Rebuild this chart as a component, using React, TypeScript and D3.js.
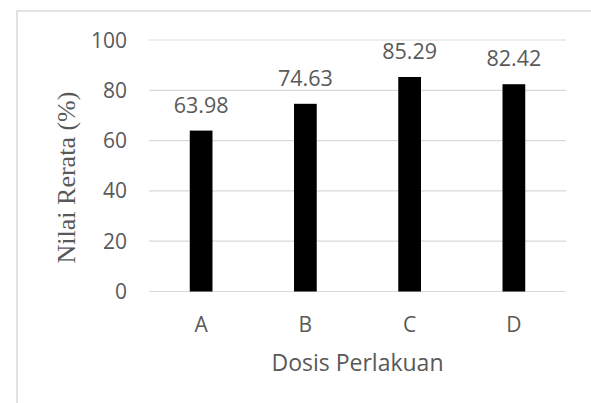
import React from "react";
import * as d3 from "d3";

const categories: string[] = ["A", "B", "C", "D"];
const values: number[] = [63.98, 74.63, 85.29, 82.42];
const yTicks: number[] = [0, 20, 40, 60, 80, 100];
const xTitle = "Dosis Perlakuan";
const yTitle = "Nilai Rerata (%)";

const W = 591;
const H = 403;
const plot = { left: 149, right: 566, top: 40, bottom: 291.5 };
const textColor = "#595959";
const gridColor = "#d9d9d9";
const sans = "'Open Sans', 'Noto Sans', sans-serif";

export default function App() {
  const x = d3
    .scaleBand<string>()
    .domain(categories)
    .range([plot.left, plot.right])
    .paddingInner(0.782)
    .paddingOuter(0.391);
  const y = d3.scaleLinear().domain([0, 100]).range([plot.bottom, plot.top]);

  return (
    <div style={{ position: "fixed", left: 0, top: 0 }}>
      <svg width={W} height={H} style={{ display: "block", background: "#fff" }}>
        <rect x={17} y={11} width={700} height={600} fill="#fff" stroke={gridColor} strokeWidth={1.5} />
        {yTicks.map((t) => (
          <g key={t}>
            <line x1={plot.left} x2={plot.right} y1={y(t)} y2={y(t)} stroke={gridColor} strokeWidth={1.2} />
            <text
              x={127}
              y={y(t)}
              dy="0.36em"
              textAnchor="end"
              fontFamily={sans}
              fontSize={21}
              fill={textColor}
            >
              {t}
            </text>
          </g>
        ))}
        {categories.map((c, i) => {
          const bx = x(c)!;
          const bw = x.bandwidth();
          return (
            <g key={c}>
              <rect x={bx} y={y(values[i])} width={bw} height={y(0) - y(values[i])} fill="#000" />
              <text
                x={bx + bw / 2}
                y={y(values[i]) - 18}
                textAnchor="middle"
                fontFamily={sans}
                fontSize={21.5}
                fill={textColor}
              >
                {values[i].toFixed(2)}
              </text>
              <text
                x={bx + bw / 2}
                y={331.5}
                textAnchor="middle"
                fontFamily={sans}
                fontSize={21}
                fill={textColor}
              >
                {c}
              </text>
            </g>
          );
        })}
        <text
          x={(plot.left + plot.right) / 2}
          y={371}
          textAnchor="middle"
          fontFamily={sans}
          fontSize={23}
          fill={textColor}
        >
          {xTitle}
        </text>
        <text
          transform={`translate(75,177.5) rotate(-90)`}
          textAnchor="middle"
          fontFamily="'Liberation Serif', 'Times New Roman', serif"
          fontSize={26}
          fill={textColor}
        >
          {yTitle}
        </text>
      </svg>
    </div>
  );
}
